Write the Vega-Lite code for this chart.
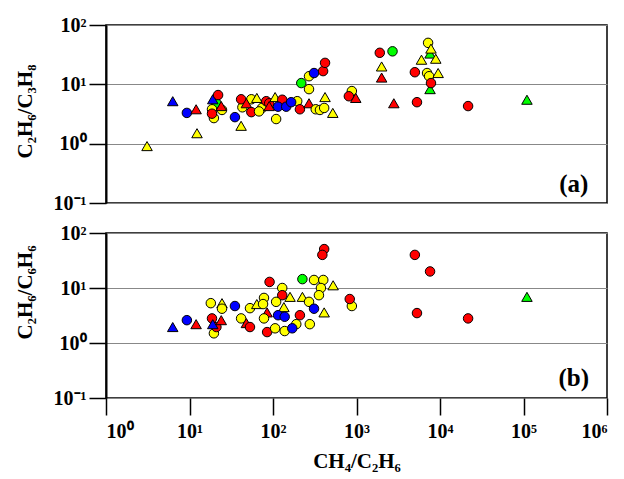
{
  "$schema": "https://vega.github.io/schema/vega-lite/v6.json",
  "background": "white",
  "padding": {"left": 13, "top": 14, "right": 14, "bottom": 2},
  "spacing": 30,
  "bounds": "flush",
  "config": {
    "view": {"stroke": "black", "strokeWidth": 1.5},
    "font": "Liberation Serif",
    "axis": {
      "labelFont": "Liberation Serif", "labelFontSize": 20, "labelFontWeight": "bold", "labelColor": "black",
      "titleFont": "Liberation Serif", "titleFontSize": 21, "titleFontWeight": "bold", "titleColor": "black",
      "tickColor": "black", "tickSize": 17, "tickWidth": 1.5,
      "domainColor": "black", "domainWidth": 2,
      "gridColor": "#888888", "gridWidth": 1
    }
  },
  "datasets": {
    "top": [
      {"x": 3.1, "y": 0.91, "c": "Y", "s": "T"},
      {"x": 6.3, "y": 5.2, "c": "B", "s": "T"},
      {"x": 9.3, "y": 3.3, "c": "B", "s": "C"},
      {"x": 12, "y": 3.8, "c": "R", "s": "T"},
      {"x": 12.3, "y": 1.5, "c": "Y", "s": "T"},
      {"x": 21, "y": 4.8, "c": "G", "s": "C"},
      {"x": 18.6, "y": 3.8, "c": "Y", "s": "C"},
      {"x": 24.5, "y": 3.7, "c": "Y", "s": "C"},
      {"x": 19.6, "y": 2.7, "c": "Y", "s": "C"},
      {"x": 18.6, "y": 3.2, "c": "R", "s": "C"},
      {"x": 19, "y": 5.6, "c": "B", "s": "T"},
      {"x": 22, "y": 6.6, "c": "R", "s": "C"},
      {"x": 24, "y": 4.3, "c": "R", "s": "T"},
      {"x": 35, "y": 2.8, "c": "B", "s": "C"},
      {"x": 41.5, "y": 2.0, "c": "Y", "s": "T"},
      {"x": 43, "y": 4.1, "c": "Y", "s": "C"},
      {"x": 55, "y": 5.6, "c": "Y", "s": "C"},
      {"x": 41.5, "y": 5.6, "c": "R", "s": "C"},
      {"x": 48, "y": 4.8, "c": "R", "s": "T"},
      {"x": 55, "y": 3.4, "c": "R", "s": "C"},
      {"x": 64, "y": 5.9, "c": "Y", "s": "T"},
      {"x": 74, "y": 4.0, "c": "Y", "s": "C"},
      {"x": 68, "y": 3.5, "c": "Y", "s": "C"},
      {"x": 83, "y": 5.2, "c": "R", "s": "C"},
      {"x": 90, "y": 4.8, "c": "R", "s": "C"},
      {"x": 90, "y": 4.3, "c": "R", "s": "T"},
      {"x": 106, "y": 6.1, "c": "Y", "s": "T"},
      {"x": 109, "y": 2.6, "c": "Y", "s": "C"},
      {"x": 129, "y": 5.5, "c": "R", "s": "C"},
      {"x": 195, "y": 5.2, "c": "Y", "s": "C"},
      {"x": 115, "y": 4.2, "c": "B", "s": "C"},
      {"x": 144, "y": 4.2, "c": "B", "s": "C"},
      {"x": 165, "y": 5.0, "c": "B", "s": "C"},
      {"x": 210, "y": 3.8, "c": "R", "s": "C"},
      {"x": 270, "y": 4.8, "c": "R", "s": "T"},
      {"x": 218, "y": 10.5, "c": "G", "s": "C"},
      {"x": 270, "y": 13.7, "c": "Y", "s": "C"},
      {"x": 310, "y": 15.5, "c": "B", "s": "C"},
      {"x": 398, "y": 16.7, "c": "R", "s": "C"},
      {"x": 420, "y": 23, "c": "R", "s": "C"},
      {"x": 270, "y": 8.3, "c": "Y", "s": "C"},
      {"x": 420, "y": 6.1, "c": "Y", "s": "T"},
      {"x": 325, "y": 3.8, "c": "Y", "s": "C"},
      {"x": 365, "y": 3.7, "c": "Y", "s": "C"},
      {"x": 410, "y": 4.0, "c": "Y", "s": "C"},
      {"x": 520, "y": 3.3, "c": "Y", "s": "T"},
      {"x": 880, "y": 7.7, "c": "Y", "s": "C"},
      {"x": 810, "y": 6.3, "c": "R", "s": "C"},
      {"x": 980, "y": 5.9, "c": "R", "s": "T"},
      {"x": 1900, "y": 34, "c": "R", "s": "C"},
      {"x": 2000, "y": 20, "c": "Y", "s": "T"},
      {"x": 2000, "y": 13, "c": "R", "s": "T"},
      {"x": 2700, "y": 36, "c": "G", "s": "C"},
      {"x": 2800, "y": 4.8, "c": "R", "s": "T"},
      {"x": 5000, "y": 16, "c": "R", "s": "C"},
      {"x": 5300, "y": 5.0, "c": "R", "s": "C"},
      {"x": 6000, "y": 26, "c": "Y", "s": "T"},
      {"x": 7600, "y": 33, "c": "G", "s": "T"},
      {"x": 7200, "y": 50, "c": "Y", "s": "C"},
      {"x": 7800, "y": 40, "c": "Y", "s": "T"},
      {"x": 8900, "y": 27, "c": "Y", "s": "T"},
      {"x": 7000, "y": 15.5, "c": "Y", "s": "C"},
      {"x": 7400, "y": 13.7, "c": "Y", "s": "C"},
      {"x": 9500, "y": 15.5, "c": "Y", "s": "T"},
      {"x": 7600, "y": 8.3, "c": "G", "s": "T"},
      {"x": 7800, "y": 10.5, "c": "R", "s": "C"},
      {"x": 21700, "y": 4.3, "c": "R", "s": "C"},
      {"x": 110000, "y": 5.5, "c": "G", "s": "T"}
    ],
    "bottom": [
      {"x": 6.3, "y": 1.95, "c": "B", "s": "T"},
      {"x": 9.3, "y": 2.6, "c": "B", "s": "C"},
      {"x": 12, "y": 2.2, "c": "R", "s": "T"},
      {"x": 18, "y": 5.3, "c": "Y", "s": "C"},
      {"x": 24.5, "y": 5.3, "c": "Y", "s": "T"},
      {"x": 24.5, "y": 4.2, "c": "Y", "s": "C"},
      {"x": 35, "y": 4.7, "c": "B", "s": "C"},
      {"x": 19.6, "y": 1.5, "c": "Y", "s": "C"},
      {"x": 18.6, "y": 2.8, "c": "R", "s": "C"},
      {"x": 21, "y": 1.95, "c": "R", "s": "C"},
      {"x": 24, "y": 2.6, "c": "R", "s": "T"},
      {"x": 19, "y": 2.2, "c": "B", "s": "T"},
      {"x": 53, "y": 4.3, "c": "Y", "s": "C"},
      {"x": 64, "y": 5.1, "c": "Y", "s": "T"},
      {"x": 78, "y": 6.6, "c": "Y", "s": "C"},
      {"x": 76, "y": 5.1, "c": "Y", "s": "C"},
      {"x": 41.5, "y": 2.8, "c": "Y", "s": "C"},
      {"x": 48, "y": 2.3, "c": "R", "s": "T"},
      {"x": 53, "y": 1.95, "c": "R", "s": "C"},
      {"x": 91, "y": 12.9, "c": "R", "s": "C"},
      {"x": 129, "y": 10, "c": "Y", "s": "C"},
      {"x": 129, "y": 7.4, "c": "R", "s": "C"},
      {"x": 160, "y": 6.9, "c": "Y", "s": "T"},
      {"x": 109, "y": 5.6, "c": "Y", "s": "C"},
      {"x": 135, "y": 4.5, "c": "Y", "s": "T"},
      {"x": 85, "y": 3.6, "c": "R", "s": "T"},
      {"x": 78, "y": 2.8, "c": "Y", "s": "C"},
      {"x": 115, "y": 3.2, "c": "B", "s": "C"},
      {"x": 138, "y": 3.0, "c": "B", "s": "C"},
      {"x": 210, "y": 3.2, "c": "R", "s": "C"},
      {"x": 190, "y": 2.2, "c": "Y", "s": "C"},
      {"x": 85, "y": 1.58, "c": "R", "s": "C"},
      {"x": 106, "y": 1.85, "c": "Y", "s": "C"},
      {"x": 138, "y": 1.65, "c": "Y", "s": "C"},
      {"x": 170, "y": 1.85, "c": "B", "s": "C"},
      {"x": 276, "y": 2.2, "c": "Y", "s": "C"},
      {"x": 225, "y": 14.5, "c": "G", "s": "C"},
      {"x": 310, "y": 14, "c": "Y", "s": "C"},
      {"x": 400, "y": 14, "c": "Y", "s": "C"},
      {"x": 375, "y": 10, "c": "Y", "s": "C"},
      {"x": 525, "y": 11.2, "c": "Y", "s": "T"},
      {"x": 355, "y": 7.4, "c": "Y", "s": "C"},
      {"x": 225, "y": 6.9, "c": "Y", "s": "T"},
      {"x": 270, "y": 5.6, "c": "Y", "s": "C"},
      {"x": 310, "y": 4.2, "c": "B", "s": "C"},
      {"x": 410, "y": 3.6, "c": "Y", "s": "T"},
      {"x": 880, "y": 4.7, "c": "Y", "s": "C"},
      {"x": 830, "y": 6.3, "c": "R", "s": "C"},
      {"x": 410, "y": 51, "c": "R", "s": "C"},
      {"x": 390, "y": 40, "c": "R", "s": "C"},
      {"x": 5000, "y": 40, "c": "R", "s": "C"},
      {"x": 7600, "y": 20, "c": "R", "s": "C"},
      {"x": 5300, "y": 3.5, "c": "R", "s": "C"},
      {"x": 21700, "y": 2.8, "c": "R", "s": "C"},
      {"x": 110000, "y": 6.9, "c": "G", "s": "T"}
    ]
  },
  "vconcat": [
    {
      "width": 501,
      "height": 178,
      "layer": [
        {
          "data": {"name": "top"},
          "mark": {"type": "point", "filled": true, "stroke": "black", "strokeWidth": 1, "opacity": 1},
          "encoding": {
            "x": {"field": "x", "type": "quantitative", "scale": {"type": "log", "domain": [1, 1000000], "nice": false}, "axis": null},
            "y": {"field": "y", "type": "quantitative", "scale": {"type": "log", "domain": [0.1, 100], "nice": false},
              "axis": {"values": [0.1, 1, 10, 100], "grid": true, "labelPadding": 3, "titlePadding": 18, "titleY": 86,
                "labelExpr": "datum.value >= 100 ? '10²' : datum.value >= 10 ? '10¹' : datum.value >= 1 ? '10⁰' : '10⁻¹'",
                "title": "C₂H₆/C₃H₈"}},
            "fill": {"field": "c", "type": "nominal", "scale": {"domain": ["R", "Y", "B", "G"], "range": ["#ff0000", "#ffff00", "#0000ff", "#00ff00"]}, "legend": null},
            "shape": {"field": "s", "type": "nominal", "scale": {"domain": ["C", "T"], "range": ["circle", "triangle-up"]}, "legend": null},
            "size": {"field": "s", "type": "nominal", "scale": {"domain": ["C", "T"], "range": [90, 110]}, "legend": null}
          }
        },
        {
          "data": {"values": [{"x": 400000, "y": 0.21, "t": "(a)"}]},
          "mark": {"type": "text", "font": "Liberation Serif", "fontSize": 25, "fontWeight": "bold", "color": "black", "align": "center", "baseline": "middle"},
          "encoding": {
            "x": {"field": "x", "type": "quantitative"},
            "y": {"field": "y", "type": "quantitative"},
            "text": {"field": "t"}
          }
        }
      ]
    },
    {
      "width": 501,
      "height": 165,
      "layer": [
        {
          "data": {"name": "bottom"},
          "mark": {"type": "point", "filled": true, "stroke": "black", "strokeWidth": 1, "opacity": 1},
          "encoding": {
            "x": {"field": "x", "type": "quantitative", "scale": {"type": "log", "domain": [1, 1000000], "nice": false},
              "axis": {"values": [1, 10, 100, 1000, 10000, 100000, 1000000], "grid": false, "labelPadding": 6, "titlePadding": 9, "domain": false,
                "labelExpr": "datum.value >= 1000000 ? '10⁶' : datum.value >= 100000 ? '10⁵' : datum.value >= 10000 ? '10⁴' : datum.value >= 1000 ? '10³' : datum.value >= 100 ? '10²' : datum.value >= 10 ? '10¹' : '10⁰'",
                "title": "CH₄/C₂H₆"}},
            "y": {"field": "y", "type": "quantitative", "scale": {"type": "log", "domain": [0.1, 100], "nice": false},
              "axis": {"values": [0.1, 1, 10, 100], "grid": true, "labelPadding": 3, "titlePadding": 18, "titleY": 59,
                "labelExpr": "datum.value >= 100 ? '10²' : datum.value >= 10 ? '10¹' : datum.value >= 1 ? '10⁰' : '10⁻¹'",
                "title": "C₂H₆/C₆H₆"}},
            "fill": {"field": "c", "type": "nominal", "scale": {"domain": ["R", "Y", "B", "G"], "range": ["#ff0000", "#ffff00", "#0000ff", "#00ff00"]}, "legend": null},
            "shape": {"field": "s", "type": "nominal", "scale": {"domain": ["C", "T"], "range": ["circle", "triangle-up"]}, "legend": null},
            "size": {"field": "s", "type": "nominal", "scale": {"domain": ["C", "T"], "range": [90, 110]}, "legend": null}
          }
        },
        {
          "data": {"values": [{"x": 400000, "y": 0.23, "t": "(b)"}]},
          "mark": {"type": "text", "font": "Liberation Serif", "fontSize": 25, "fontWeight": "bold", "color": "black", "align": "center", "baseline": "middle"},
          "encoding": {
            "x": {"field": "x", "type": "quantitative"},
            "y": {"field": "y", "type": "quantitative"},
            "text": {"field": "t"}
          }
        }
      ]
    }
  ]
}
